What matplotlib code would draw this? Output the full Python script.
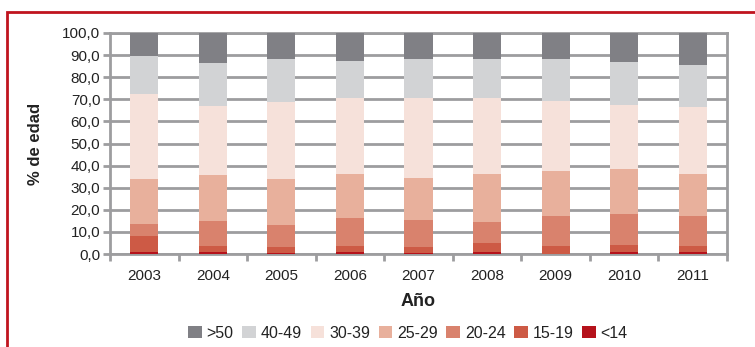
import numpy as np
import matplotlib.pyplot as plt
from matplotlib import rcParams
from matplotlib.patches import Rectangle
from matplotlib.ticker import FuncFormatter

rcParams['font.family'] = ['Liberation Sans Narrow', 'Liberation Sans', 'DejaVu Sans']

years = ['2003', '2004', '2005', '2006', '2007', '2008', '2009', '2010', '2011']
groups = ['<14', '15-19', '20-24', '25-29', '30-39', '40-49', '>50']

# porcentaje por grupo de edad, de abajo hacia arriba
menor14 = [1.0, 1.0, 0.6, 1.0, 0.3, 1.0, 0.2, 1.0, 1.0]
g15_19 = [7.3, 2.8, 2.7, 2.8, 3.0, 4.1, 3.6, 3.2, 2.8]
g20_24 = [5.5, 11.3, 10.0, 12.7, 12.3, 9.6, 13.6, 14.1, 13.6]
g25_29 = [20.0, 20.5, 20.5, 19.6, 18.6, 21.4, 20.1, 20.1, 18.7]
g30_39 = [38.6, 31.4, 35.1, 34.5, 36.4, 34.5, 31.7, 29.0, 30.4]
g40_49 = [17.3, 19.2, 19.4, 16.8, 17.7, 17.7, 19.1, 19.6, 19.1]
mayor50 = [10.3, 13.8, 11.7, 12.6, 11.7, 11.7, 11.7, 13.0, 14.4]

series = [menor14, g15_19, g20_24, g25_29, g30_39, g40_49, mayor50]
colors = ['#b5121b', '#cd5a45', '#d9826d', '#e8b09c', '#f6e1da', '#d2d3d5', '#808085']

fig = plt.figure(figsize=(7.55, 3.47), dpi=100)
ax = fig.add_axes([110/755, 1-254/347, 617/755, 221/347])

x = np.arange(len(years))
bottom = np.zeros(len(years))
handles = []
for vals, col, lab in zip(series, colors, groups):
    b = ax.bar(x, vals, bottom=bottom, width=0.41, color=col, label=lab, zorder=3)
    handles.append(b)
    bottom += np.array(vals)

grid_col = '#9d9d9f'
txt_col = '#222222'
ax.set_xlim(-0.5, len(years) - 0.5)
ax.set_ylim(0, 100)
ax.set_yticks(np.arange(0, 101, 10))
ax.yaxis.set_major_formatter(FuncFormatter(lambda v, p: f"{v:.1f}".replace('.', ',')))
ax.yaxis.grid(True, color=grid_col, lw=2, zorder=0)

ax.set_xticks(np.arange(-0.5, len(years), 1))
ax.set_xticklabels([])
ax.set_xticks(x, minor=True)
ax.set_xticklabels(years, minor=True)
ax.tick_params(axis='x', which='minor', length=0, pad=11, labelsize=11, colors=txt_col)
ax.tick_params(axis='x', which='major', length=5, width=2, color=grid_col)
ax.tick_params(axis='y', length=5, width=2, color=grid_col, labelsize=11,
               labelcolor=txt_col, pad=2)

for s in ax.spines.values():
    s.set_color(grid_col)
    s.set_linewidth(2)

ax.set_ylabel('% de edad', fontsize=12, fontweight='bold', labelpad=14, color=txt_col,
              family=['Liberation Sans', 'DejaVu Sans'])
ax.set_xlabel('Año', fontsize=13, fontweight='bold', labelpad=7, color=txt_col,
              family=['Liberation Sans', 'DejaVu Sans'])

fig.legend(handles[::-1], groups[::-1], loc='center', bbox_to_anchor=(408/755, 1-333/347),
           ncol=7, frameon=False, fontsize=11.5, handlelength=0.85, handleheight=0.85,
           handletextpad=0.3, columnspacing=0.55, labelcolor=txt_col)

# marco rojo
fig.patches.append(Rectangle((7/755, -0.1), 1.1, 1.1 - 12/347, transform=fig.transFigure,
                             fill=False, edgecolor='#c0141e', lw=2))

fig.savefig('out.png', dpi=100)
